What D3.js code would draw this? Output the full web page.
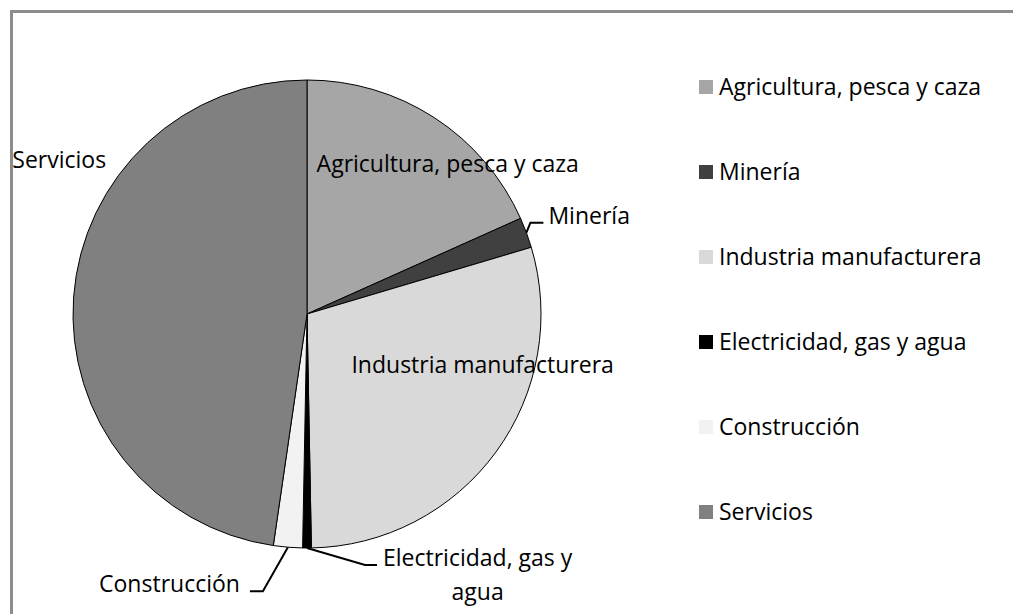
<!doctype html>
<html lang="es">
<head>
	<meta charset="UTF-8">
	<title>Estructura por sectores</title>
	<style>
		body { margin: 0; background: #fff; }
		svg text { font-family: "Open Sans", "Noto Sans", sans-serif; font-size: 23px; fill: #000; }
	</style>
</head>
<body>
<svg id="chart" width="1013" height="614"></svg>

<script src="https://cdn.jsdelivr.net/npm/d3@7"></script>
<script>

// data (share of total, %)
var categories = ["Agricultura, pesca y caza", "Minería", "Industria manufacturera",
                  "Electricidad, gas y agua", "Construcción", "Servicios"];
var shares = [18.3, 2.1, 29.3, 0.6, 2.0, 47.7];

// styles
var fills = ["#a6a6a6", "#404040", "#d9d9d9", "#000000", "#f2f2f2", "#808080"];

// label layout: "in" = offset from centroid, "out" = leader line from slice edge
var labelLayout = [
	{ kind: "in",  dx: -54,  dy: -44 },
	{ kind: "out", elbow: [4, -10],  run: 13,  gap: 5 },
	{ kind: "in",  dx: -50,  dy: -10 },
	{ kind: "out", elbow: [58, 17],  run: 12,  gap: 6, lines: ["Electricidad, gas y", "agua"] },
	{ kind: "out", elbow: [-25, 44], run: -13, gap: 10 },
	{ kind: "in",  dx: -178, dy: -138 }
];

var cx = 307, cy = 314, radius = 234;

var svg = d3.select("#chart");

// outer frame
svg.append("rect")
	.attr("x", 11.5).attr("y", 11.5)
	.attr("width", 1100).attr("height", 700)
	.attr("fill", "none")
	.attr("stroke", "#8c8c8c")
	.attr("stroke-width", 3);

var pie = d3.pie().sort(null).value(function(d) { return d; });
var arcs = pie(shares);

var arc = d3.arc().innerRadius(0).outerRadius(radius);
var edge = d3.arc().innerRadius(radius).outerRadius(radius);

var g = svg.append("g").attr("transform", "translate(" + cx + "," + cy + ")");

g.selectAll("path.slice")
	.data(arcs)
  .enter().append("path")
	.attr("class", "slice")
	.attr("d", arc)
	.attr("fill", function(d, i) { return fills[i]; })
	.attr("stroke", "#000")
	.attr("stroke-width", 1);

// data labels
arcs.forEach(function(d, i) {
	var lay = labelLayout[i];
	if (lay.kind === "in") {
		var c = arc.centroid(d);
		g.append("text")
			.attr("x", c[0] + lay.dx)
			.attr("y", c[1] + lay.dy)
			.text(categories[i]);
	} else {
		var p = edge.centroid(d);
		var e = [p[0] + lay.elbow[0], p[1] + lay.elbow[1]];
		var end = [e[0] + lay.run, e[1]];
		g.append("path")
			.attr("d", d3.line()([p, e, end]))
			.attr("fill", "none")
			.attr("stroke", "#000")
			.attr("stroke-width", 2);
		var right = lay.run > 0;
		var t = g.append("text")
			.attr("x", end[0] + (right ? lay.gap : -lay.gap))
			.attr("y", end[1] + 1)
			.attr("text-anchor", right ? "start" : "end");
		if (lay.lines) {
			// first line left-aligned after leader; the rest centred under it
			t.text(lay.lines[0]);
			var w = t.node().getComputedTextLength();
			var x0 = end[0] + lay.gap;
			lay.lines.slice(1).forEach(function(s, k) {
				g.append("text")
					.attr("x", x0 + w / 2)
					.attr("y", end[1] + 1 + 34 * (k + 1))
					.attr("text-anchor", "middle")
					.text(s);
			});
		} else {
			t.text(categories[i]);
		}
	}
});

// legend
var ly = d3.scalePoint().domain(categories).range([87, 512]);

var item = svg.append("g").selectAll("g")
	.data(categories)
  .enter().append("g")
	.attr("transform", function(d) { return "translate(699," + ly(d) + ")"; });

item.append("rect")
	.attr("x", 0).attr("y", -7)
	.attr("width", 14).attr("height", 14)
	.attr("fill", function(d, i) { return fills[i]; });

item.append("text")
	.attr("x", 20)
	.attr("y", 8)
	.text(function(d) { return d; });

</script>
</body>
</html>
